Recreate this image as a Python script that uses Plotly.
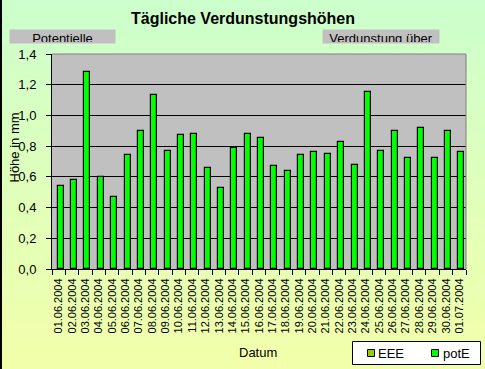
import plotly.graph_objects as go

dates = ["01.06.2004", "02.06.2004", "03.06.2004", "04.06.2004", "05.06.2004",
         "06.06.2004", "07.06.2004", "08.06.2004", "09.06.2004", "10.06.2004",
         "11.06.2004", "12.06.2004", "13.06.2004", "14.06.2004", "15.06.2004",
         "16.06.2004", "17.06.2004", "18.06.2004", "19.06.2004", "20.06.2004",
         "21.06.2004", "22.06.2004", "23.06.2004", "24.06.2004", "25.06.2004",
         "26.06.2004", "27.06.2004", "28.06.2004", "29.06.2004", "30.06.2004",
         "01.07.2004"]
potE = [0.54, 0.58, 1.28, 0.60, 0.47, 0.74, 0.90, 1.13, 0.77, 0.87,
        0.88, 0.66, 0.53, 0.79, 0.88, 0.85, 0.67, 0.64, 0.74, 0.76,
        0.75, 0.83, 0.68, 1.15, 0.77, 0.90, 0.72, 0.92, 0.72, 0.90,
        0.76]
eee = [None, None, None, None, None, None, None, None, None, None,
       None, None, None, None, None, None, None, None, None, None,
       None, None, None, None, None, None, None, None, None, None,
       None]
y_ticks = [0.0, 0.2, 0.4, 0.6, 0.8, 1.0, 1.2, 1.4]
series_names = ["EEE", "potE"]
series_colors = ["#99cc00", "#00ff00"]

W, H = 485, 369
L, R, T, B = 52, 466, 54, 269
PW, PH = R - L, B - T
FONT = "Arial, Liberation Sans, sans-serif"


def px(x):
    return (x - L) / PW


def py(y):
    return (B - y) / PH


fig = go.Figure()
fig.add_trace(go.Bar(x=dates, y=eee, name=series_names[0], showlegend=False,
                     marker=dict(color=series_colors[0], line=dict(color="black", width=1))))
fig.add_trace(go.Bar(x=dates, y=potE, name=series_names[1], showlegend=False,
                     width=0.45, offset=-0.07,
                     marker=dict(color=series_colors[1], line=dict(color="black", width=1.2))))

shapes = []
# background gradient (light green -> light yellow)
n = 80
top_c = (204, 255, 204)
bot_c = (242, 255, 170)
for i in range(n):
    t = i / (n - 1)
    c = tuple(round(top_c[k] + (bot_c[k] - top_c[k]) * t) for k in range(3))
    y0 = i * H / n
    y1 = (i + 1) * H / n + 0.5
    shapes.append(dict(type="rect", xref="paper", yref="paper", layer="below",
                       x0=px(0), x1=px(W), y0=py(y1), y1=py(y0),
                       fillcolor="rgb(%d,%d,%d)" % c, line=dict(width=0)))
# plot area
shapes.append(dict(type="rect", xref="x domain", yref="y domain", layer="below",
                   x0=0, x1=1, y0=0, y1=1, fillcolor="#c0c0c0", line=dict(width=0)))
# grey top/right frame
shapes.append(dict(type="line", xref="x domain", yref="y domain", layer="above",
                   x0=0, x1=1, y0=1, y1=1, line=dict(color="#808080", width=1)))
shapes.append(dict(type="line", xref="x domain", yref="y domain", layer="above",
                   x0=1, x1=1, y0=0, y1=1, line=dict(color="#808080", width=1)))
# left black border of chart
shapes.append(dict(type="line", xref="paper", yref="paper", layer="above",
                   x0=px(0), x1=px(0), y0=py(H), y1=py(0), line=dict(color="black", width=4)))

# legend box (Excel style)
shapes.append(dict(type="rect", xref="paper", yref="paper", layer="above",
                   x0=px(352.5), x1=px(480.5), y0=py(364.5), y1=py(341.5),
                   fillcolor="white", line=dict(color="black", width=1)))
leg_sq_x = [367.5, 431.5]
leg_txt_x = [376, 441]
for sx, col in zip(leg_sq_x, series_colors):
    shapes.append(dict(type="rect", xref="paper", yref="paper", layer="above",
                       x0=px(sx), x1=px(sx + 7), y0=py(356.5), y1=py(349.5),
                       fillcolor=col, line=dict(color="black", width=1)))

annotations = [
    dict(text="<b>Tägliche Verdunstungshöhen</b>", x=px(243), y=py(19), xref="paper", yref="paper",
         xanchor="center", yanchor="middle", showarrow=False, font=dict(size=16, family=FONT, color="black")),
    dict(text="Potentielle", x=px(9), y=py(29), xref="paper", yref="paper",
         xanchor="left", yanchor="top", showarrow=False, width=103, height=11, valign="top",
         bgcolor="#c0c0c0", borderpad=1, font=dict(size=13, family=FONT, color="black")),
    dict(text="Verdunstung über", x=px(322), y=py(29), xref="paper", yref="paper",
         xanchor="left", yanchor="top", showarrow=False, width=114, height=11, valign="top",
         bgcolor="#c0c0c0", borderpad=1, font=dict(size=13, family=FONT, color="black")),
    dict(text="Höhe in mm", x=px(13.5), y=py(148), xref="paper", yref="paper", textangle=-90,
         xanchor="center", yanchor="middle", showarrow=False, font=dict(size=13, family=FONT, color="black")),
    dict(text="Datum", x=px(258), y=py(352), xref="paper", yref="paper",
         xanchor="center", yanchor="middle", showarrow=False, font=dict(size=13, family=FONT, color="black")),
]
for tx, name in zip(leg_txt_x, series_names):
    annotations.append(dict(text=name, x=px(tx), y=py(353), xref="paper", yref="paper",
                            xanchor="left", yanchor="middle", showarrow=False,
                            font=dict(size=13, family=FONT, color="black")))

fig.update_layout(
    width=W, height=H,
    margin=dict(l=L, r=W - R, t=T, b=H - B, pad=0, autoexpand=False),
    paper_bgcolor="#ccffcc", plot_bgcolor="#c0c0c0",
    separators=",.",
    font=dict(family=FONT, size=12, color="black"),
    barmode="overlay",
    bargap=0,
    shapes=shapes,
    annotations=annotations,
    showlegend=False,
    xaxis=dict(type="category", categoryorder="array", categoryarray=dates,
               tickmode="array", tickvals=dates, ticktext=dates,
               showline=True, linecolor="black", linewidth=1,
               ticks="outside", ticklen=5, tickcolor="black", tickson="boundaries",
               tickangle=-90, tickfont=dict(size=11, family=FONT, color="black"),
               ticklabelstandoff=4,
               showgrid=False, zeroline=False, fixedrange=True),
    yaxis=dict(range=[0, 1.4], tickvals=y_ticks, tickformat=".1f",
               showline=True, linecolor="black", linewidth=1,
               ticks="outside", ticklen=5, tickcolor="black",
               showgrid=True, gridcolor="black", gridwidth=1,
               zeroline=False, ticklabelstandoff=7, fixedrange=True,
               tickfont=dict(size=13, family=FONT, color="black")),
)

fig.write_html("out.html", config={"displayModeBar": False},
               post_script="document.body.style.margin='0';document.body.style.padding='0';")
